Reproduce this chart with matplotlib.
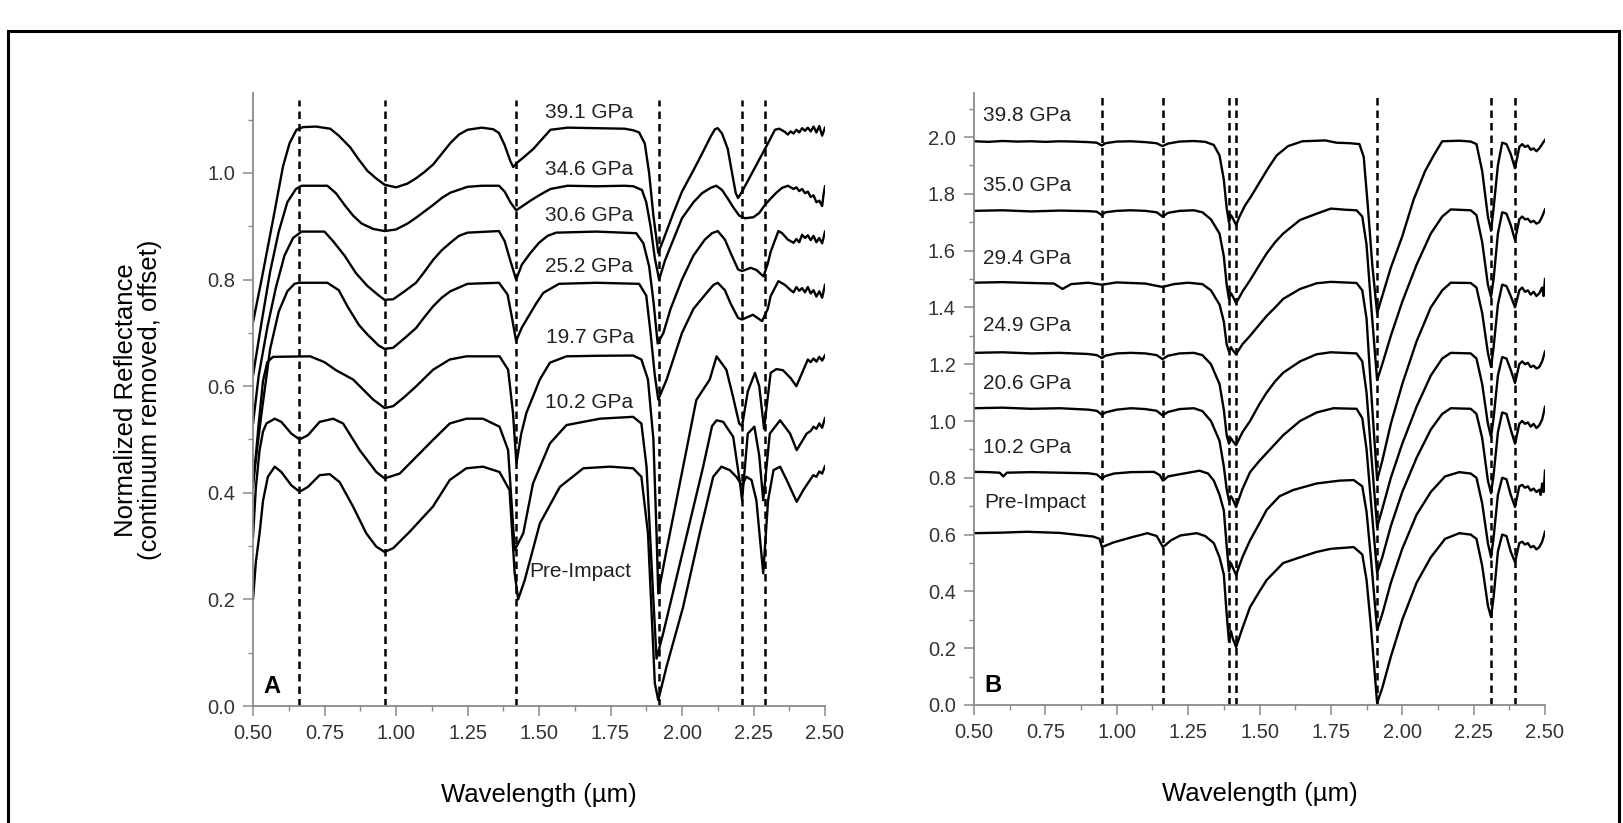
import matplotlib
matplotlib.use('Agg')
import matplotlib.pyplot as plt
from matplotlib.ticker import MultipleLocator, FormatStrFormatter
from matplotlib.patches import Rectangle

plt.rcParams['font.family'] = ['Liberation Sans', 'DejaVu Sans']

# ---------------- panel A spectra (wavelength um, reflectance) ----------------
a_391 = [(0.50,0.72),(0.53,0.80),(0.57,0.912),(0.605,1.0125),(0.628,1.056),(0.652,1.081),(0.675,1.086),(0.72,1.087),
         (0.77,1.083),(0.80,1.07),(0.84,1.048),(0.87,1.025),(0.90,1.004),(0.93,0.99),(0.96,0.978),(1.00,0.973),
         (1.04,0.98),(1.07,0.99),(1.10,1.002),(1.13,1.016),(1.16,1.036),(1.19,1.056),(1.22,1.072),(1.25,1.081),
         (1.30,1.085),(1.34,1.082),(1.36,1.075),(1.38,1.052),(1.40,1.022),(1.41,1.011),(1.425,1.02),(1.45,1.031),
         (1.48,1.045),(1.51,1.063),(1.54,1.081),(1.60,1.085),(1.70,1.084),(1.80,1.083),(1.83,1.08),(1.85,1.076),
         (1.87,1.055),(1.885,1.0),(1.90,0.92),(1.917,0.85),(1.935,0.875),(1.97,0.925),(2.00,0.965),(2.04,1.005),
         (2.07,1.036),(2.10,1.068),(2.115,1.082),(2.125,1.084),(2.14,1.074),(2.16,1.045),(2.175,1.0),(2.188,0.962),
         (2.196,0.953),(2.21,0.965),(2.24,0.995),(2.27,1.025),(2.30,1.055),(2.325,1.081),(2.34,1.083),(2.36,1.077),
         (2.37,1.072),(2.38,1.078),(2.39,1.074),(2.40,1.081),(2.41,1.076),(2.42,1.084),(2.43,1.079),(2.44,1.085),
         (2.45,1.078),(2.46,1.087),(2.47,1.076),(2.48,1.088),(2.49,1.07),(2.50,1.085)]
a_346 = [(0.50,0.62),(0.53,0.72),(0.56,0.815),(0.59,0.89),(0.62,0.945),(0.65,0.97),(0.67,0.976),(0.76,0.976),
         (0.79,0.962),(0.82,0.94),(0.85,0.92),(0.88,0.905),(0.92,0.895),(0.96,0.891),(1.00,0.894),(1.04,0.905),
         (1.07,0.916),(1.10,0.928),(1.13,0.94),(1.16,0.953),(1.19,0.963),(1.25,0.974),(1.30,0.976),(1.36,0.976),
         (1.38,0.965),(1.40,0.945),(1.42,0.93),(1.44,0.937),(1.47,0.948),(1.50,0.958),(1.54,0.97),(1.60,0.976),
         (1.70,0.975),(1.80,0.976),(1.83,0.975),(1.86,0.968),(1.875,0.945),(1.89,0.9),(1.905,0.84),(1.92,0.80),
         (1.94,0.835),(1.96,0.862),(2.00,0.915),(2.04,0.945),(2.07,0.962),(2.10,0.972),(2.12,0.976),(2.14,0.968),
         (2.16,0.952),(2.18,0.935),(2.20,0.92),(2.22,0.915),(2.25,0.917),(2.27,0.925),(2.29,0.94),(2.31,0.952),
         (2.33,0.963),(2.35,0.972),(2.37,0.976),(2.39,0.97),(2.40,0.973),(2.41,0.966),(2.42,0.97),(2.43,0.962),
         (2.44,0.965),(2.45,0.955),(2.46,0.958),(2.47,0.945),(2.48,0.948),(2.49,0.938),(2.495,0.96),(2.50,0.975)]
a_306 = [(0.50,0.53),(0.52,0.62),(0.55,0.71),(0.58,0.785),(0.61,0.845),(0.64,0.878),(0.67,0.89),(0.75,0.89),
         (0.78,0.872),(0.82,0.845),(0.86,0.812),(0.90,0.788),(0.94,0.77),(0.96,0.762),(0.99,0.763),(1.03,0.778),
         (1.07,0.794),(1.10,0.815),(1.13,0.837),(1.16,0.855),(1.19,0.869),(1.22,0.882),(1.25,0.888),(1.36,0.891),
         (1.38,0.872),(1.40,0.835),(1.42,0.80),(1.44,0.828),(1.47,0.85),(1.50,0.869),(1.53,0.882),(1.56,0.888),
         (1.70,0.89),(1.84,0.887),(1.865,0.868),(1.885,0.825),(1.90,0.76),(1.915,0.68),(1.935,0.70),(1.96,0.745),
         (2.00,0.80),(2.04,0.845),(2.08,0.875),(2.105,0.887),(2.125,0.891),(2.15,0.875),(2.17,0.85),(2.196,0.819),
         (2.21,0.816),(2.24,0.822),(2.26,0.818),(2.285,0.806),(2.30,0.83),(2.31,0.852),(2.337,0.891),(2.35,0.887),
         (2.37,0.875),(2.39,0.869),(2.40,0.876),(2.41,0.87),(2.42,0.884),(2.43,0.878),(2.44,0.883),(2.45,0.874),
         (2.46,0.882),(2.47,0.87),(2.48,0.878),(2.49,0.868),(2.50,0.89)]
a_252 = [(0.50,0.42),(0.53,0.55),(0.56,0.67),(0.59,0.74),(0.62,0.778),(0.645,0.792),(0.66,0.794),(0.76,0.794),
         (0.80,0.78),(0.83,0.75),(0.87,0.715),(0.90,0.697),(0.94,0.676),(0.96,0.67),(0.99,0.672),(1.03,0.69),
         (1.07,0.709),(1.10,0.73),(1.13,0.75),(1.16,0.766),(1.19,0.778),(1.25,0.792),(1.36,0.794),(1.39,0.772),
         (1.405,0.73),(1.42,0.685),(1.44,0.71),(1.46,0.728),(1.49,0.755),(1.515,0.775),(1.57,0.792),(1.70,0.794),
         (1.85,0.792),(1.875,0.77),(1.89,0.70),(1.905,0.62),(1.917,0.575),(1.946,0.612),(2.00,0.70),(2.04,0.745),
         (2.086,0.775),(2.11,0.79),(2.125,0.794),(2.15,0.78),(2.17,0.755),(2.196,0.728),(2.21,0.725),(2.248,0.734),
         (2.28,0.722),(2.30,0.745),(2.31,0.769),(2.337,0.797),(2.36,0.79),(2.38,0.78),(2.39,0.776),(2.40,0.786),
         (2.41,0.779),(2.42,0.784),(2.43,0.776),(2.44,0.786),(2.45,0.774),(2.46,0.78),(2.47,0.768),(2.48,0.778),
         (2.49,0.766),(2.50,0.79)]
a_197 = [(0.50,0.41),(0.52,0.53),(0.535,0.61),(0.55,0.645),(0.57,0.655),(0.70,0.656),(0.75,0.645),(0.79,0.63),
         (0.85,0.6125),(0.92,0.575),(0.96,0.559),(0.99,0.5625),(1.03,0.58),(1.071,0.60),(1.13,0.631),(1.188,0.65),
         (1.246,0.656),(1.362,0.656),(1.392,0.631),(1.409,0.55),(1.421,0.455),(1.438,0.511),(1.456,0.55),
         (1.503,0.6125),(1.538,0.644),(1.596,0.656),(1.70,0.657),(1.829,0.6575),(1.858,0.65),(1.881,0.6125),
         (1.90,0.50),(1.911,0.324),(1.917,0.211),(1.946,0.2925),(2.004,0.449),(2.05,0.574),(2.097,0.6125),
         (2.121,0.656),(2.155,0.631),(2.178,0.581),(2.20,0.53),(2.21,0.525),(2.23,0.59),(2.255,0.625),(2.27,0.60),
         (2.287,0.52),(2.30,0.58),(2.31,0.625),(2.33,0.632),(2.353,0.63),(2.38,0.615),(2.40,0.60),(2.42,0.625),
         (2.44,0.65),(2.45,0.645),(2.46,0.652),(2.47,0.646),(2.48,0.655),(2.49,0.648),(2.50,0.658)]
a_102 = [(0.50,0.3175),(0.51,0.41),(0.523,0.48),(0.535,0.515),(0.547,0.53),(0.576,0.539),(0.599,0.533),
         (0.634,0.511),(0.663,0.50),(0.692,0.508),(0.733,0.533),(0.78,0.539),(0.815,0.53),(0.873,0.48),
         (0.931,0.439),(0.96,0.427),(1.013,0.436),(1.071,0.4675),(1.129,0.499),(1.188,0.53),(1.246,0.539),
         (1.304,0.539),(1.362,0.524),(1.392,0.48),(1.415,0.2925),(1.445,0.324),(1.479,0.4175),(1.538,0.4925),
         (1.596,0.527),(1.713,0.539),(1.829,0.5425),(1.858,0.53),(1.876,0.449),(1.90,0.199),(1.911,0.089),
         (1.934,0.136),(2.004,0.2925),(2.074,0.449),(2.105,0.525),(2.121,0.536),(2.144,0.533),(2.179,0.505),
         (2.203,0.4175),(2.21,0.386),(2.23,0.511),(2.253,0.524),(2.27,0.47),(2.284,0.386),(2.307,0.511),
         (2.343,0.536),(2.378,0.511),(2.401,0.48),(2.436,0.511),(2.45,0.516),(2.46,0.524),(2.47,0.52),(2.48,0.53),
         (2.49,0.522),(2.50,0.54)]
a_pre = [(0.50,0.20),(0.51,0.27),(0.523,0.324),(0.535,0.385),(0.552,0.43),(0.576,0.449),(0.599,0.439),
         (0.634,0.414),(0.663,0.402),(0.692,0.411),(0.733,0.433),(0.768,0.435),(0.803,0.42),(0.85,0.374),
         (0.896,0.324),(0.931,0.299),(0.96,0.289),(0.99,0.296),(1.048,0.327),(1.129,0.374),(1.188,0.424),
         (1.246,0.446),(1.304,0.449),(1.362,0.439),(1.397,0.405),(1.415,0.249),(1.427,0.20),(1.45,0.236),
         (1.503,0.3425),(1.573,0.411),(1.655,0.446),(1.748,0.449),(1.829,0.446),(1.858,0.43),(1.881,0.324),
         (1.905,0.0425),(1.917,0.011),(1.946,0.074),(2.004,0.186),(2.062,0.324),(2.109,0.43),(2.138,0.449),
         (2.167,0.4425),(2.19,0.43),(2.21,0.414),(2.225,0.43),(2.243,0.424),(2.26,0.386),(2.284,0.249),
         (2.301,0.386),(2.32,0.4425),(2.343,0.449),(2.366,0.424),(2.401,0.383),(2.424,0.405),(2.459,0.433),
         (2.47,0.43),(2.48,0.44),(2.49,0.436),(2.50,0.45)]

# ---------------- panel B spectra ----------------
b_398 = [(0.50,1.985),(0.55,1.983),(0.60,1.986),(0.65,1.984),(0.70,1.985),(0.75,1.983),(0.80,1.985),(0.85,1.984),
         (0.90,1.982),(0.93,1.98),(0.948,1.97),(0.96,1.978),(1.00,1.984),(1.05,1.985),(1.10,1.982),(1.14,1.978),
         (1.16,1.968),(1.18,1.977),(1.22,1.984),(1.27,1.986),(1.31,1.983),(1.34,1.972),(1.36,1.935),(1.375,1.85),
         (1.385,1.75),(1.393,1.70),(1.40,1.725),(1.406,1.715),(1.418,1.69),(1.43,1.72),(1.45,1.76),(1.47,1.79),
         (1.50,1.84),(1.53,1.89),(1.56,1.935),(1.60,1.968),(1.65,1.985),(1.73,1.988),(1.77,1.98),(1.82,1.978),
         (1.85,1.975),(1.865,1.93),(1.88,1.75),(1.895,1.55),(1.912,1.38),(1.93,1.44),(1.96,1.54),(2.00,1.65),
         (2.04,1.78),(2.08,1.88),(2.11,1.935),(2.14,1.985),(2.20,1.987),(2.24,1.984),(2.26,1.975),(2.28,1.88),
         (2.30,1.72),(2.311,1.67),(2.32,1.75),(2.335,1.90),(2.35,1.98),(2.365,1.975),(2.38,1.94),(2.395,1.89),
         (2.41,1.965),(2.42,1.975),(2.43,1.965),(2.44,1.97),(2.45,1.955),(2.46,1.96),(2.47,1.95),(2.48,1.96),
         (2.49,1.975),(2.50,1.99)]
b_350 = [(0.50,1.74),(0.60,1.742),(0.70,1.738),(0.80,1.741),(0.90,1.739),(0.93,1.737),(0.948,1.725),(0.96,1.735),
         (1.00,1.74),(1.05,1.742),(1.10,1.74),(1.14,1.735),(1.16,1.72),(1.18,1.733),(1.22,1.74),(1.27,1.742),
         (1.30,1.735),(1.33,1.71),(1.36,1.66),(1.375,1.58),(1.385,1.48),(1.393,1.43),(1.40,1.45),(1.406,1.44),
         (1.418,1.415),(1.44,1.455),(1.467,1.496),(1.50,1.55),(1.525,1.59),(1.555,1.63),(1.583,1.66),(1.642,1.708),
         (1.70,1.73),(1.75,1.748),(1.80,1.744),(1.84,1.742),(1.86,1.72),(1.875,1.62),(1.89,1.42),(1.912,1.144),
         (1.93,1.2),(1.96,1.3),(2.00,1.42),(2.05,1.55),(2.10,1.66),(2.14,1.72),(2.17,1.745),(2.24,1.742),
         (2.26,1.725),(2.28,1.63),(2.30,1.48),(2.311,1.437),(2.32,1.5),(2.335,1.66),(2.35,1.735),(2.365,1.73),
         (2.38,1.69),(2.395,1.637),(2.41,1.71),(2.42,1.72),(2.43,1.71),(2.44,1.712),(2.45,1.70),(2.46,1.705),
         (2.47,1.695),(2.48,1.70),(2.49,1.72),(2.50,1.745)]
b_294 = [(0.50,1.487),(0.60,1.489),(0.70,1.486),(0.78,1.484),(0.81,1.465),(0.84,1.482),(0.90,1.487),(0.948,1.48),
         (1.00,1.488),(1.05,1.486),(1.10,1.484),(1.16,1.472),(1.20,1.482),(1.25,1.487),(1.30,1.482),(1.33,1.46),
         (1.36,1.41),(1.375,1.35),(1.385,1.27),(1.393,1.245),(1.40,1.26),(1.406,1.25),(1.418,1.235),(1.44,1.27),
         (1.467,1.30),(1.50,1.34),(1.525,1.37),(1.555,1.40),(1.583,1.43),(1.642,1.465),(1.70,1.485),(1.75,1.49),
         (1.84,1.486),(1.86,1.46),(1.875,1.36),(1.89,1.12),(1.912,0.792),(1.93,0.86),(1.96,0.99),(2.00,1.13),
         (2.05,1.28),(2.10,1.40),(2.14,1.46),(2.17,1.487),(2.24,1.486),(2.26,1.47),(2.28,1.38),(2.30,1.24),
         (2.311,1.19),(2.32,1.26),(2.335,1.41),(2.35,1.48),(2.365,1.475),(2.38,1.44),(2.395,1.40),(2.41,1.46),
         (2.42,1.47),(2.43,1.455),(2.44,1.46),(2.45,1.445),(2.46,1.455),(2.47,1.44),(2.48,1.45),(2.49,1.47),
         (2.495,1.44),(2.50,1.50)]
b_249 = [(0.50,1.24),(0.60,1.242),(0.70,1.238),(0.80,1.24),(0.90,1.236),(0.93,1.232),(0.948,1.222),(0.96,1.23),
         (1.00,1.238),(1.05,1.24),(1.10,1.238),(1.14,1.232),(1.16,1.218),(1.18,1.23),(1.22,1.238),(1.27,1.24),
         (1.30,1.232),(1.33,1.20),(1.36,1.13),(1.375,1.04),(1.385,0.95),(1.393,0.92),(1.40,0.94),(1.406,0.93),
         (1.418,0.915),(1.44,0.96),(1.467,1.00),(1.50,1.06),(1.525,1.10),(1.555,1.14),(1.583,1.17),(1.642,1.21),
         (1.70,1.235),(1.75,1.242),(1.84,1.238),(1.86,1.21),(1.875,1.10),(1.89,0.90),(1.912,0.627),(1.93,0.69),
         (1.96,0.80),(2.00,0.92),(2.05,1.05),(2.10,1.16),(2.14,1.22),(2.17,1.24),(2.24,1.238),(2.26,1.22),
         (2.28,1.13),(2.30,0.99),(2.311,0.944),(2.32,1.01),(2.335,1.16),(2.35,1.225),(2.365,1.22),(2.38,1.18),
         (2.395,1.134),(2.41,1.20),(2.42,1.21),(2.43,1.20),(2.44,1.205),(2.45,1.19),(2.46,1.195),(2.47,1.185),
         (2.48,1.19),(2.49,1.21),(2.50,1.245)]
b_206 = [(0.50,1.045),(0.60,1.047),(0.70,1.043),(0.80,1.045),(0.90,1.04),(0.93,1.036),(0.948,1.022),(0.96,1.03),
         (1.00,1.04),(1.05,1.045),(1.10,1.042),(1.14,1.036),(1.16,1.02),(1.18,1.032),(1.22,1.042),(1.27,1.045),
         (1.30,1.035),(1.33,1.00),(1.36,0.93),(1.375,0.84),(1.385,0.76),(1.393,0.72),(1.40,0.735),(1.406,0.725),
         (1.418,0.697),(1.44,0.76),(1.467,0.82),(1.50,0.86),(1.525,0.887),(1.583,0.95),(1.642,1.00),(1.70,1.03),
         (1.759,1.045),(1.84,1.043),(1.86,1.01),(1.875,0.90),(1.89,0.72),(1.912,0.465),(1.93,0.52),(1.96,0.63),
         (2.00,0.75),(2.05,0.87),(2.10,0.97),(2.14,1.025),(2.17,1.045),(2.24,1.043),(2.26,1.025),(2.28,0.94),
         (2.30,0.79),(2.311,0.746),(2.32,0.81),(2.335,0.96),(2.35,1.03),(2.365,1.025),(2.38,0.97),(2.395,0.92),
         (2.41,0.99),(2.42,1.00),(2.43,0.99),(2.44,0.995),(2.45,0.98),(2.46,0.99),(2.47,0.975),(2.48,0.985),
         (2.49,1.005),(2.50,1.05)]
b_102 = [(0.50,0.821),(0.55,0.82),(0.59,0.818),(0.603,0.805),(0.615,0.818),(0.70,0.82),(0.80,0.818),(0.90,0.816),
         (0.93,0.812),(0.948,0.797),(0.96,0.806),(0.99,0.815),(1.05,0.82),(1.13,0.821),(1.15,0.81),(1.162,0.79),
         (1.18,0.805),(1.223,0.813),(1.29,0.825),(1.32,0.815),(1.34,0.79),(1.36,0.74),(1.375,0.685),(1.385,0.56),
         (1.393,0.47),(1.40,0.50),(1.406,0.485),(1.418,0.458),(1.44,0.52),(1.467,0.58),(1.50,0.64),(1.525,0.687),
         (1.57,0.735),(1.618,0.757),(1.70,0.78),(1.78,0.79),(1.83,0.792),(1.86,0.77),(1.875,0.68),(1.89,0.52),
         (1.912,0.264),(1.93,0.32),(1.96,0.43),(2.00,0.55),(2.05,0.67),(2.10,0.75),(2.15,0.805),(2.20,0.82),
         (2.24,0.815),(2.26,0.80),(2.28,0.71),(2.30,0.57),(2.311,0.52),(2.32,0.59),(2.335,0.74),(2.35,0.80),
         (2.365,0.795),(2.38,0.74),(2.395,0.697),(2.41,0.77),(2.42,0.775),(2.43,0.765),(2.44,0.77),(2.45,0.755),
         (2.46,0.762),(2.47,0.75),(2.48,0.758),(2.485,0.74),(2.49,0.78),(2.495,0.75),(2.50,0.825)]
b_pre = [(0.50,0.605),(0.60,0.607),(0.685,0.61),(0.80,0.606),(0.918,0.593),(0.94,0.585),(0.948,0.556),
         (0.99,0.573),(1.05,0.59),(1.107,0.605),(1.14,0.595),(1.162,0.556),(1.19,0.58),(1.223,0.597),(1.28,0.605),
         (1.31,0.595),(1.34,0.57),(1.36,0.52),(1.375,0.46),(1.385,0.32),(1.393,0.225),(1.40,0.26),(1.406,0.235),
         (1.418,0.204),(1.44,0.27),(1.467,0.345),(1.50,0.40),(1.525,0.44),(1.583,0.50),(1.642,0.52),(1.70,0.539),
         (1.75,0.55),(1.83,0.556),(1.86,0.53),(1.875,0.44),(1.89,0.28),(1.912,0.007),(1.93,0.06),(1.96,0.17),
         (2.00,0.30),(2.05,0.43),(2.10,0.52),(2.15,0.585),(2.20,0.605),(2.24,0.60),(2.26,0.585),(2.28,0.49),
         (2.30,0.35),(2.311,0.31),(2.32,0.38),(2.335,0.54),(2.35,0.60),(2.365,0.595),(2.38,0.54),(2.395,0.503),
         (2.41,0.57),(2.42,0.575),(2.43,0.565),(2.44,0.57),(2.45,0.555),(2.46,0.56),(2.47,0.548),(2.48,0.556),
         (2.49,0.575),(2.50,0.61)]

a_curves = [a_391, a_346, a_306, a_252, a_197, a_102, a_pre]
b_curves = [b_398, b_350, b_294, b_249, b_206, b_102, b_pre]

# band positions (dashed lines)
a_bands = [0.66, 0.96, 1.42, 1.92, 2.21, 2.29]
b_bands = [0.948, 1.162, 1.393, 1.418, 1.912, 2.311, 2.395]

# label text and (x, y) anchor in data units
a_labels = ['39.1 GPa', '34.6 GPa', '30.6 GPa', '25.2 GPa', '19.7 GPa', '10.2 GPa', 'Pre-Impact']
a_label_x = [1.52, 1.52, 1.52, 1.52, 1.525, 1.52, 1.465]
a_label_y = [1.113, 1.007, 0.921, 0.824, 0.692, 0.570, 0.252]
b_labels = ['39.8 GPa', '35.0 GPa', '29.4 GPa', '24.9 GPa', '20.6 GPa', '10.2 GPa', 'Pre-Impact']
b_label_x = [0.53, 0.53, 0.53, 0.53, 0.53, 0.53, 0.535]
b_label_y = [2.075, 1.83, 1.572, 1.338, 1.133, 0.905, 0.714]

W, H = 1623, 823
fig = plt.figure(figsize=(W / 100, H / 100), dpi=100)

axA = fig.add_axes([253 / W, 1 - 706 / H, 572 / W, 613 / H])
axB = fig.add_axes([974 / W, 1 - 705 / H, 571 / W, 612 / H])

def style(ax, ymax, bands, btop):
    for s in ['top', 'right']:
        ax.spines[s].set_visible(False)
    for s in ['left', 'bottom']:
        ax.spines[s].set_color('#8a8a8a')
        ax.spines[s].set_linewidth(1.3)
    ax.set_xlim(0.5, 2.5)
    ax.set_ylim(0, ymax)
    ax.xaxis.set_major_locator(MultipleLocator(0.25))
    ax.xaxis.set_minor_locator(MultipleLocator(0.125))
    ax.yaxis.set_major_locator(MultipleLocator(0.2))
    ax.yaxis.set_minor_locator(MultipleLocator(0.1))
    ax.xaxis.set_major_formatter(FormatStrFormatter('%.2f'))
    ax.yaxis.set_major_formatter(FormatStrFormatter('%.1f'))
    ax.tick_params(which='major', length=7, width=1.1, color='#8a8a8a',
                   labelsize=14.5, labelcolor='#333333', pad=6)
    ax.tick_params(which='minor', length=3.5, width=1.0, color='#8a8a8a')
    for b in bands:
        ax.plot([b, b], [0, btop], color='black', lw=1.8, ls=(0, (3, 2)), zorder=1)
    ax.set_xlabel(u'Wavelength (\u00b5m)', fontsize=18.5, labelpad=29)

style(axA, 1.15, a_bands, 1.137)
style(axB, 2.155, b_bands, 2.14)

for c in a_curves:
    axA.plot([p[0] for p in c], [p[1] for p in c], color='black', lw=1.7,
             solid_joinstyle='round', zorder=2)
for c in b_curves:
    axB.plot([p[0] for p in c], [p[1] for p in c], color='black', lw=1.7,
             solid_joinstyle='round', zorder=2)

for t, x, y in zip(a_labels, a_label_x, a_label_y):
    axA.text(x, y, t, fontsize=15, color='#222222', ha='left', va='center')
for t, x, y in zip(b_labels, b_label_x, b_label_y):
    axB.text(x, y, t, fontsize=15, color='#222222', ha='left', va='center')

axA.text(0.535, 0.025, 'A', fontsize=17, fontweight='bold', ha='left', va='baseline')
axB.text(0.538, 0.045, 'B', fontsize=17, fontweight='bold', ha='left', va='baseline')

fig.text(138 / W, 1 - 400 / H, 'Normalized Reflectance\n(continuum removed, offset)',
         rotation=90, fontsize=18.5, ha='center', va='center', multialignment='center',
         linespacing=0.95)

# outer frame
fig.patches.append(Rectangle((8 / W, -0.05), 1611 / W, 1.05 - 31 / H, transform=fig.transFigure,
                             fill=False, edgecolor='black', lw=2.2))

fig.savefig('out.png', dpi=100)
